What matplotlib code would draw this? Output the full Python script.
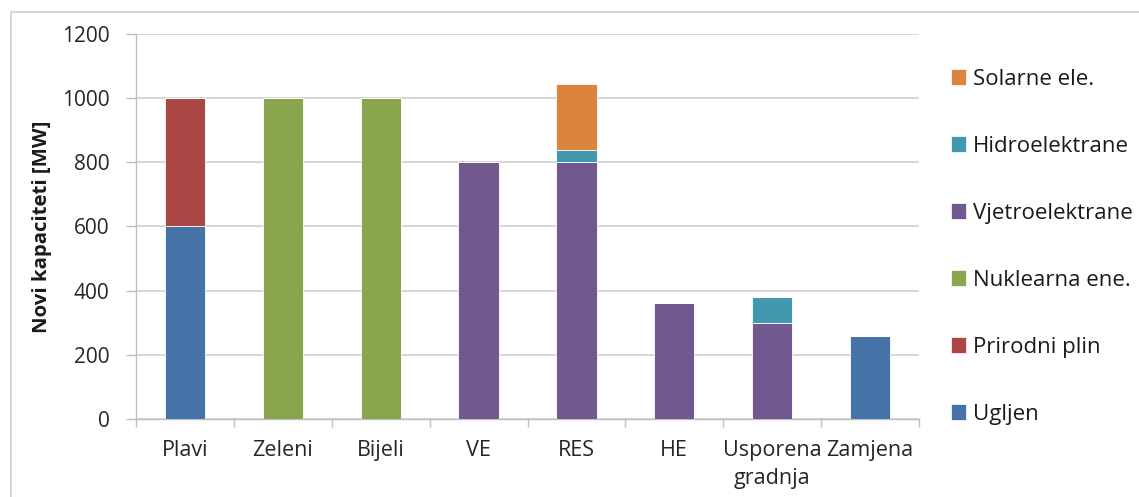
import matplotlib
matplotlib.use("Agg")
import matplotlib.pyplot as plt
from matplotlib.patches import Rectangle, Patch
import numpy as np

categories = ["Plavi", "Zeleni", "Bijeli", "VE", "RES", "HE", "Usporena\ngradnja", "Zamjena"]
series_names = ["Ugljen", "Prirodni plin", "Nuklearna ene.", "Vjetroelektrane", "Hidroelektrane", "Solarne ele."]
ugljen       = [600, 0, 0, 0, 0, 0, 0, 260]
prirodni     = [400, 0, 0, 0, 0, 0, 0, 0]
nuklearna    = [0, 1000, 1000, 0, 0, 0, 0, 0]
vjetro       = [0, 0, 0, 800, 800, 362, 300, 0]
hidro        = [0, 0, 0, 0, 40, 0, 80, 0]
solarne      = [0, 0, 0, 0, 203, 0, 0, 0]
colors = ["#4572A7", "#AA4643", "#89A54E", "#71588F", "#4198AF", "#DB843D"]
yticks = [0, 200, 400, 600, 800, 1000, 1200]

plt.rcParams['font.family'] = ['Open Sans', 'DejaVu Sans']

fig = plt.figure(figsize=(11.39, 4.97), dpi=100)
W, H = 1139, 497
ax = fig.add_axes([136 / W, 1 - 419 / H, (919 - 136) / W, (419 - 34) / H])

x = np.arange(len(categories))
bottom = np.zeros(len(categories))
handles = []
for name, vals, c in zip(series_names, [ugljen, prirodni, nuklearna, vjetro, hidro, solarne], colors):
    v = np.array(vals, dtype=float)
    ax.bar(x, v, bottom=bottom, width=0.41, color=c, edgecolor="#ffffff", linewidth=0.6, zorder=3)
    bottom += v
    handles.append(Patch(facecolor=c, edgecolor="#ffffff", linewidth=0.5, label=name))

ax.set_xlim(-0.5, len(categories) - 0.5)
ax.set_ylim(0, 1200)
ax.set_yticks(yticks)
ax.set_yticklabels([str(t) for t in yticks], fontsize=15, color="#262626")
ax.yaxis.grid(True, color="#d3d3d3", linewidth=1.3, zorder=0)
ax.set_axisbelow(True)
ax.set_xticks(x)
ax.set_xticklabels(categories, fontsize=15.5, va="top", linespacing=1.45, color="#262626")
ax.set_xticks(np.arange(-0.5, len(categories)), minor=True)
ax.tick_params(axis="x", which="major", length=0, pad=15)
ax.tick_params(axis="x", which="minor", length=6, color="#bfbfbf", width=1)
ax.tick_params(axis="y", length=7, color="#bfbfbf", width=1, pad=12)
for s in ["top", "right"]:
    ax.spines[s].set_visible(False)
for s in ["left", "bottom"]:
    ax.spines[s].set_color("#bfbfbf")
    ax.spines[s].set_linewidth(1)

ax.set_ylabel("Novi kapaciteti [MW]", fontsize=14.7, fontweight="bold", labelpad=7, color="#1a1a1a")

leg = fig.legend(handles=handles[::-1], loc="upper left", bbox_to_anchor=(942 / W, 1 - 60 / H),
                 frameon=False, fontsize=16, labelspacing=2.07, handlelength=0.68, handleheight=0.68,
                 handletextpad=0.3, borderaxespad=0)
for t in leg.get_texts():
    t.set_color("#1a1a1a")

# outer chart frame (partially visible)
fig.patches.append(Rectangle((11 / W, -0.1), 1.2, 1 - 12 / H + 0.1, transform=fig.transFigure,
                             fill=False, edgecolor="#d0d0d0", linewidth=1.2))

fig.savefig("out.png", dpi=100)
